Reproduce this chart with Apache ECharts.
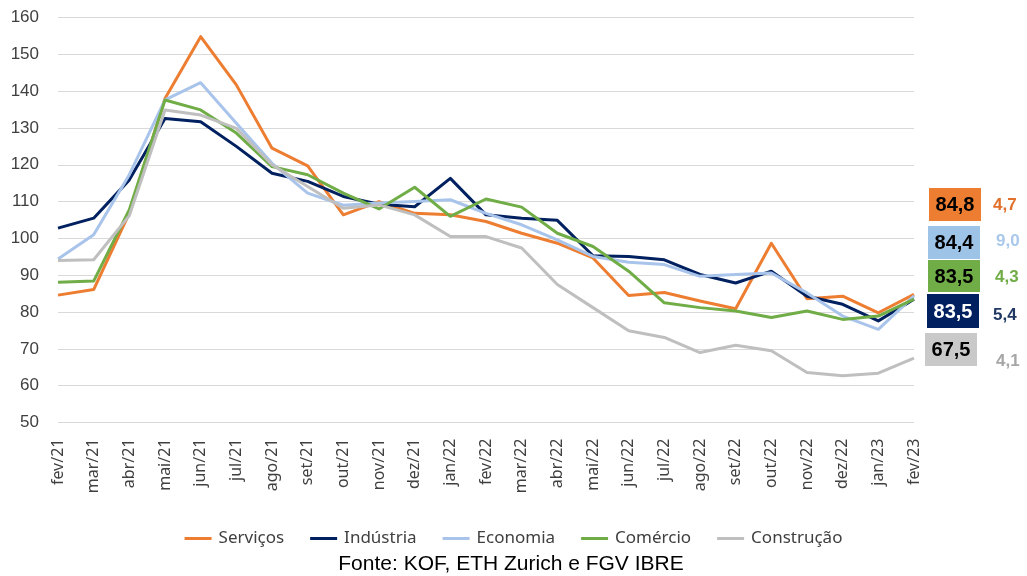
<!DOCTYPE html>
<html><head><meta charset="utf-8">
<script src="https://cdn.jsdelivr.net/npm/echarts@6/dist/echarts.min.js"></script>
<style>html,body{margin:0;padding:0;background:#fff}#c{width:1027px;height:576px}</style>
</head><body><div id="c"></div>
<script>
const categories = ['fev/21','mar/21','abr/21','mai/21','jun/21','jul/21','ago/21','set/21','out/21','nov/21','dez/21','jan/22','fev/22','mar/22','abr/22','mai/22','jun/22','jul/22','ago/22','set/22','out/22','nov/22','dez/22','jan/23','fev/23'];
const servicos   = [84.6,86.1,106.9,138.0,154.8,141.7,124.5,119.7,106.4,110.0,106.8,106.4,104.6,101.4,98.7,94.7,84.5,85.3,83.0,80.9,98.7,83.6,84.3,79.8,84.8];
const industria  = [102.8,105.5,115.9,132.6,131.7,125.0,117.7,115.5,111.4,109.3,108.6,116.3,106.4,105.5,104.9,95.3,95.1,94.2,90.2,87.9,91.1,84.3,82.1,77.6,83.5];
const economia   = [94.4,101.0,117.3,137.6,142.3,131.3,120.4,112.3,109.0,109.6,110.0,110.5,106.8,103.7,99.6,95.1,93.5,92.9,89.7,90.2,90.6,85.2,78.9,75.3,84.4];
const comercio   = [88.1,88.4,107.8,137.6,134.9,128.6,119.5,117.3,112.3,108.0,113.9,106.0,110.7,108.5,101.4,97.8,91.1,82.5,81.2,80.3,78.5,80.3,78.0,78.9,83.5];
const construcao = [94.0,94.2,106.2,134.9,133.5,129.9,120.0,114.1,108.2,109.1,106.4,100.5,100.5,97.4,87.5,81.2,74.9,73.1,69.0,71.0,69.5,63.6,62.7,63.4,67.5];
const yTicks = [50,60,70,80,90,100,110,120,130,140,150,160];

const seriesNames = ['Serviços','Indústria','Economia','Comércio','Construção'];
const seriesData = [servicos, industria, economia, comercio, construcao];
const colors = ['#ED7D31','#002060','#A9C4EB','#70AD47','#BFBFBF'];

// right-side annotation boxes (order top to bottom)
const boxValues = ['84,8','84,4','83,5','83,5','67,5'];
const boxChanges = ['4,7','9,0','4,3','5,4','4,1'];
const boxFill = ['#ED7D31','#9DC3E6','#70AD47','#002060','#C9C9C9'];
const boxTextColor = ['#000','#000','#000','#fff','#000'];
const changeColor = ['#E0702A','#A9C8EA','#70AD47','#203864','#A6A6A6'];

const chart = echarts.init(document.getElementById('c'), null, {renderer:'canvas'});

const graphics = [];
const boxTops = [188, 226, 260, 294, 333];
const boxLefts = [929, 928, 928, 927, 925];
const boxHeights = [33, 33, 32, 34, 33];
const changeY = [205, 241, 277, 315, 361];
const changeX = [993, 996, 995, 993, 996];
for (let i = 0; i < 5; i++) {
  graphics.push({type:'rect', left: boxLefts[i], top: boxTops[i], shape:{width:52, height:boxHeights[i]}, style:{fill: boxFill[i]}, z: 10});
  graphics.push({type:'text', x: boxLefts[i] + 26, y: boxTops[i] + boxHeights[i]/2 + 1, style:{text: boxValues[i], fill: boxTextColor[i], font:'bold 20px "Liberation Sans", Arial, sans-serif', textAlign:'center', textVerticalAlign:'middle'}, z: 11});
  graphics.push({type:'text', x: changeX[i], y: changeY[i], style:{text: boxChanges[i], fill: changeColor[i], font:'bold 17px "Liberation Sans", Arial, sans-serif', textAlign:'left', textVerticalAlign:'middle'}, z: 11});
}
graphics.push({type:'text', x: 511, y: 564, style:{text:'Fonte: KOF, ETH Zurich e FGV IBRE', fill:'#000', font:'21px "Liberation Sans", Arial, sans-serif', textAlign:'center', textVerticalAlign:'middle'}});

chart.setOption({
  animation: false,
  backgroundColor: '#fff',
  grid: {left: 58, right: 113, top: 17.5, bottom: 153.5, containLabel: false},
  legend: {
    data: seriesNames,
    top: 525,
    left: 'center',
    itemWidth: 27, itemHeight: 3, itemGap: 26,
    icon: 'rect',
    textStyle: {fontSize: 17, color: '#404040', fontFamily: '"Noto Sans", sans-serif', padding:[0,0,0,2]}
  },
  xAxis: {
    type: 'category',
    data: categories,
    boundaryGap: false,
    axisLine: {show: false},
    axisTick: {show: false},
    axisLabel: {rotate: 90, margin: 16, fontSize: 16, color: '#404040', fontFamily: '"Noto Sans", sans-serif', interval: 0},
    splitLine: {show: false}
  },
  yAxis: {
    type: 'value',
    min: yTicks[0], max: yTicks[yTicks.length-1], interval: 10,
    axisLine: {show: false},
    axisTick: {show: false},
    axisLabel: {margin: 19, fontSize: 17, color: '#404040', fontFamily: '"Liberation Sans", Arial, sans-serif'},
    splitLine: {lineStyle: {color: '#D9D9D9', width: 1}}
  },
  series: seriesNames.map((n, i) => ({
    name: n, type: 'line', data: seriesData[i], symbol: 'none',
    lineStyle: {width: 3, color: colors[i], join: 'round'},
    itemStyle: {color: colors[i]},
    z: 2 + i
  })),
  graphic: graphics
});
</script>
</body></html>
